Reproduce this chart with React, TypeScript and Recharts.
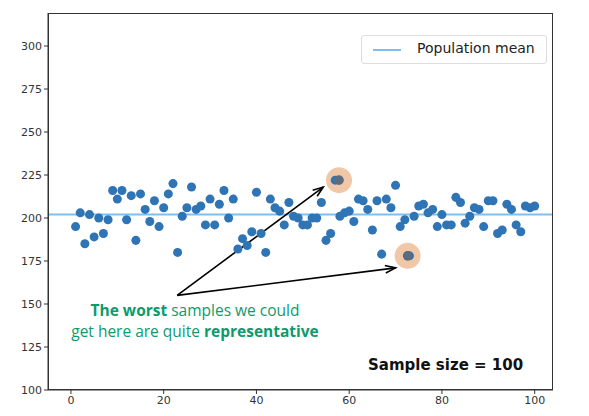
import React from 'react';
import {
  ScatterChart, Scatter, XAxis, YAxis, ReferenceLine, ReferenceDot,
} from 'recharts';

const sampleIndex = Array.from({ length: 100 }, (_, i) => i + 1);
const sampleValues = [
  195, 203, 185, 202, 189, 200, 191, 199, 216, 211,
  216, 199, 213, 187, 214, 205, 198, 210, 195, 206,
  214, 220, 180, 201, 206, 218, 205, 207, 196, 211,
  196, 208, 216, 200, 211, 182, 188, 184, 192, 215,
  191, 180, 211, 206, 204, 196, 209, 201, 200, 196,
  196, 200, 200, 209, 187, 191, 222, 201, 203, 204,
  198, 211, 210, 205, 193, 210, 179, 211, 206, 219,
  195, 199, 178, 201, 207, 208, 203, 205, 195, 202,
  196, 196, 212, 209, 197, 201, 206, 205, 195, 210,
  210, 191, 193, 208, 205, 196, 192, 207, 206, 207,
];
const populationMean = 202;
const xTicks = [0, 20, 40, 60, 80, 100];
const yTicks = [100, 125, 150, 175, 200, 225, 250, 275, 300];
const worstSamples = [
  { x: 57.8, y: 222 },
  { x: 72.6, y: 178 },
];
const arrowStart = { x: 22.9, y: 155 };

const points = sampleIndex.map((x, i) => ({ x, y: sampleValues[i] }));

const tickStyle = { fill: '#333', fontSize: 11, fontFamily: 'DejaVu Sans' };

const Arrow = (props: any) => {
  const { x1, y1, x2, y2 } = props;
  const ang = Math.atan2(y2 - y1, x2 - x1);
  const len = 11;
  const a1 = ang + Math.PI - 0.35;
  const a2 = ang + Math.PI + 0.35;
  return (
    <g>
      <line x1={x1} y1={y1} x2={x2} y2={y2} stroke="#000" strokeWidth={1.6} />
      <polyline
        points={`${x2 + len * Math.cos(a1)},${y2 + len * Math.sin(a1)} ${x2},${y2} ${x2 + len * Math.cos(a2)},${y2 + len * Math.sin(a2)}`}
        fill="none" stroke="#000" strokeWidth={1.6}
      />
    </g>
  );
};

const ArrowLine = (props: any) => {
  const s = props.segment ?? [];
  if (props.x1 !== undefined) return <Arrow {...props} />;
  if (s.length === 2) return <Arrow x1={s[0].x} y1={s[0].y} x2={s[1].x} y2={s[1].y} />;
  return null;
};

export default function App() {
  return (
    <div style={{ position: 'absolute', left: 0, top: 0, width: 589, height: 416, background: '#fff', fontFamily: 'Open Sans' }}>
      <ScatterChart width={589} height={416} margin={{ top: 13, right: 36, bottom: 0, left: 0 }}>
        <XAxis type="number" dataKey="x" domain={[-4.95, 103.95]} ticks={xTicks} allowDataOverflow
          tick={tickStyle} tickLine={{ stroke: '#333' }} tickSize={4} axisLine={{ stroke: '#333' }} height={26} />
        <YAxis type="number" dataKey="y" domain={[100, 319.2]} ticks={yTicks} allowDataOverflow
          tick={tickStyle} tickLine={{ stroke: '#333' }} tickSize={4} axisLine={{ stroke: '#333' }} width={48} />
        <ReferenceLine y={populationMean} stroke="#7fbfee" strokeWidth={2} />
        {worstSamples.map((p, i) => (
          <ReferenceDot key={'h' + i} x={p.x} y={p.y} r={13} fill="#f0c8a8" stroke="none" />
        ))}
        <Scatter data={points} fill="#2f74b4" isAnimationActive={false} />
        {worstSamples.map((p, i) => (
          <ReferenceDot key={'d' + i} x={p.x} y={p.y} r={4.8} fill="#5b6b80" stroke="none" />
        ))}
        {worstSamples.map((p, i) => (
          <ReferenceLine key={'a' + i} segment={[arrowStart, { x: p.x - (i === 0 ? 3.4 : 2.6), y: p.y - (i === 0 ? 4 : 7) }]}
            shape={ArrowLine} ifOverflow="visible" />
        ))}
      </ScatterChart>
      <div style={{ position: 'absolute', left: 48, top: 13, width: 505, height: 377, border: '1px solid #333', boxSizing: 'border-box', pointerEvents: 'none' }} />
      <div style={{ position: 'absolute', left: 361, top: 35, width: 186, height: 29, border: '1px solid #ddd', borderRadius: 3, background: '#fff', boxSizing: 'border-box' }}>
        <div style={{ position: 'absolute', left: 11, top: 13, width: 28, height: 2, background: '#7fbfee' }} />
        <div style={{ position: 'absolute', left: 55, top: 4, fontSize: 14, fontFamily: 'DejaVu Sans', color: '#222' }}>Population mean</div>
      </div>
      <div style={{ position: 'absolute', left: 40, top: 300, width: 310, textAlign: 'center', fontSize: 15.5, lineHeight: '21px', color: '#0e9a6c' }}>
        <b>The worst</b> samples we could<br />get here are quite <b>representative</b>
      </div>
      <div style={{ position: 'absolute', left: 368, top: 356, fontSize: 15, fontWeight: 'bold', fontFamily: 'DejaVu Sans', color: '#111' }}>
        Sample size = 100
      </div>
    </div>
  );
}
